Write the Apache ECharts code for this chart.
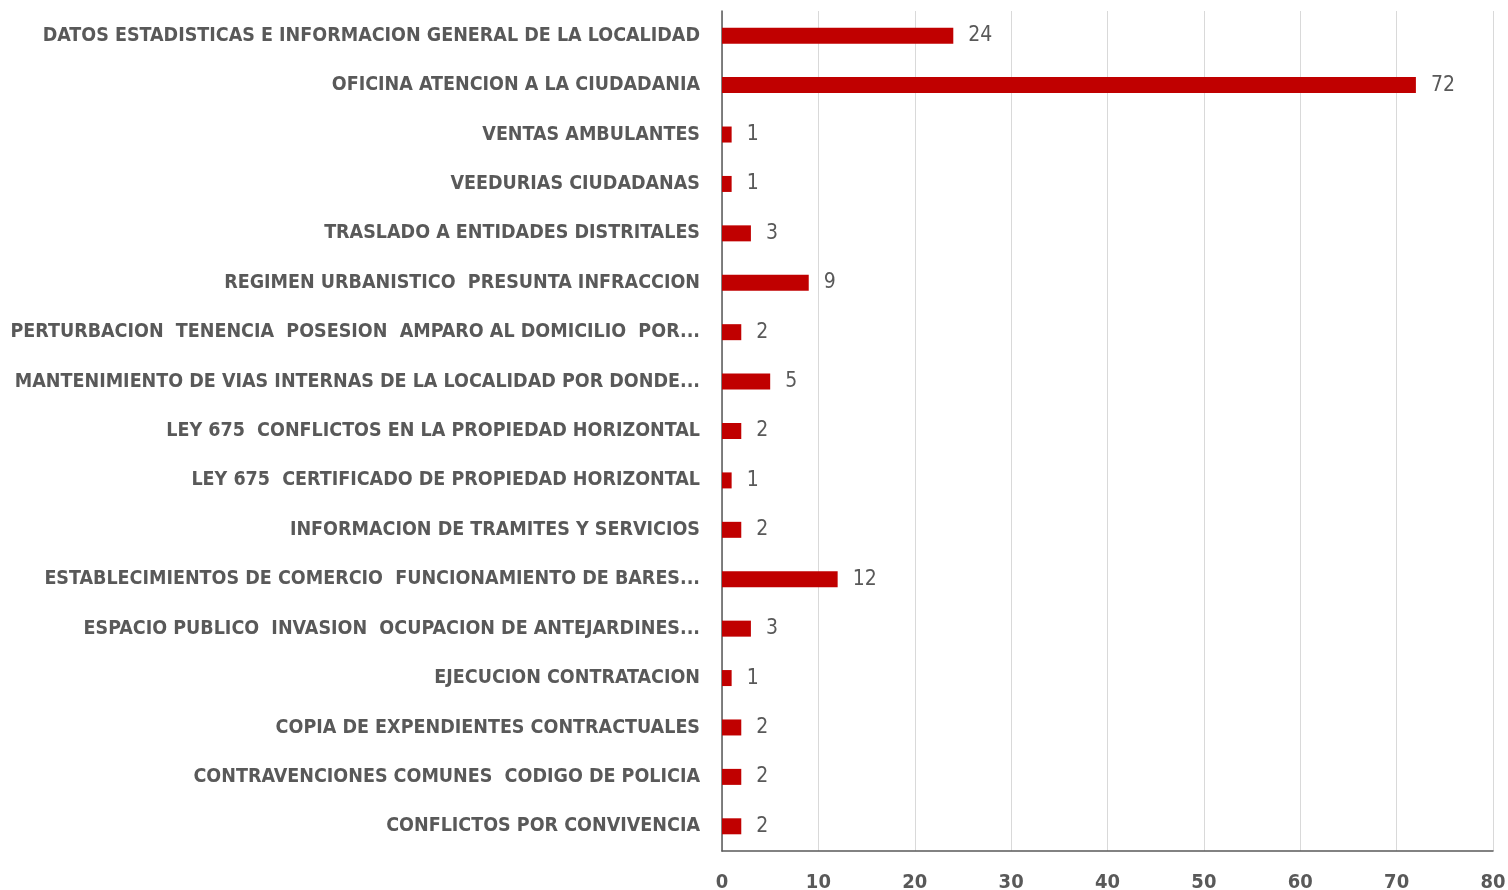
<!DOCTYPE html>
<html>
<head>
<meta charset="utf-8">
<script src="https://cdn.jsdelivr.net/npm/echarts@6/dist/echarts.min.js"></script>
<style>
  html, body { margin: 0; padding: 0; background: #fff; }
  #chart { width: 1508px; height: 890px; }
</style>
</head>
<body>
<div id="chart"></div>
<script>
// Categories, top to bottom as shown
const categories = [
  'DATOS ESTADISTICAS E INFORMACION GENERAL DE LA LOCALIDAD',
  'OFICINA ATENCION A LA CIUDADANIA',
  'VENTAS AMBULANTES',
  'VEEDURIAS CIUDADANAS',
  'TRASLADO A ENTIDADES DISTRITALES',
  'REGIMEN URBANISTICO  PRESUNTA INFRACCION',
  'PERTURBACION  TENENCIA  POSESION  AMPARO AL DOMICILIO  POR...',
  'MANTENIMIENTO DE VIAS INTERNAS DE LA LOCALIDAD POR DONDE...',
  'LEY 675  CONFLICTOS EN LA PROPIEDAD HORIZONTAL',
  'LEY 675  CERTIFICADO DE PROPIEDAD HORIZONTAL',
  'INFORMACION DE TRAMITES Y SERVICIOS',
  'ESTABLECIMIENTOS DE COMERCIO  FUNCIONAMIENTO DE BARES...',
  'ESPACIO PUBLICO  INVASION  OCUPACION DE ANTEJARDINES...',
  'EJECUCION CONTRATACION',
  'COPIA DE EXPENDIENTES CONTRACTUALES',
  'CONTRAVENCIONES COMUNES  CODIGO DE POLICIA',
  'CONFLICTOS POR CONVIVENCIA'
];
const values = [24, 72, 1, 1, 3, 9, 2, 5, 2, 1, 2, 12, 3, 1, 2, 2, 2];

const font = '"Liberation Sans Narrow", "DejaVu Sans Condensed", "Open Sans", sans-serif';

const chart = echarts.init(document.getElementById('chart'));
chart.setOption({
  animation: false,
  grid: { left: 722, right: 15, top: 11, bottom: 39, outerBoundsMode: 'none', containLabel: false },
  xAxis: {
    type: 'value',
    min: 0,
    max: 80,
    interval: 10,
    axisLine: { show: true, lineStyle: { color: '#595959', width: 1.5 } },
    axisTick: { show: false },
    splitLine: { show: true, lineStyle: { color: '#d9d9d9', width: 1 } },
    axisLabel: {
      color: '#595959',
      fontFamily: font,
      fontWeight: 'bold',
      fontSize: 20,
      margin: 22
    }
  },
  yAxis: {
    type: 'category',
    data: categories,
    inverse: true,
    axisLine: { show: true, lineStyle: { color: '#595959', width: 1.5 } },
    axisTick: { show: false },
    axisLabel: {
      color: '#595959',
      fontFamily: font,
      fontWeight: 'bold',
      fontSize: 19.5,
      margin: 22
    }
  },
  series: [{
    type: 'bar',
    data: values,
    barWidth: 16,
    itemStyle: { color: '#c00000' },
    label: {
      show: true,
      position: 'right',
      distance: 15,
      color: '#595959',
      fontFamily: font,
      fontSize: 21
    }
  }]
});
</script>
</body>
</html>
